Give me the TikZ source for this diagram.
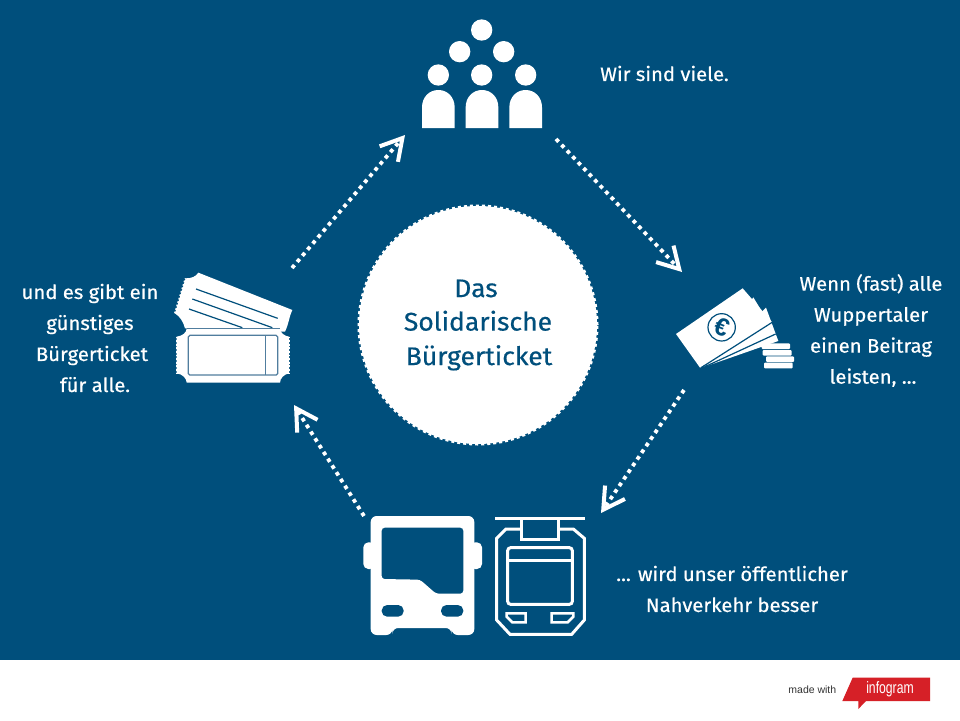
\documentclass[tikz,border=0pt]{standalone}
\usepackage{fontspec}
\setmainfont{Liberation Sans}
\newfontfamily\logofont[FakeStretch=0.74]{Liberation Sans}
\newfontfamily\lblfont[FakeBold=0.5,FakeStretch=1.04]{Fira Sans}
\usetikzlibrary{arrows.meta}
\definecolor{bgblue}{RGB}{0,79,124}
\definecolor{logored}{RGB}{214,32,39}
\definecolor{softline}{RGB}{80,125,158}
\tikzset{
  flow/.style={white,line width=3.8pt,dash pattern=on 3.8pt off 4.2pt,
    -{Straight Barb[length=21pt,width=24pt,line width=4pt]}},
  lbl/.style={text=white,align=center,inner sep=0pt,font=\lblfont\fontsize{19.5}{31}\selectfont},
  icon/.style={fill=white,draw=none},
  iconline/.style={draw=white,line width=3pt,fill=none},
  cut/.style={draw=bgblue,line width=1.2pt},
  zoomed/.style={scale=0.33333}
}
\begin{document}
\begin{tikzpicture}[x=1pt,y=-1pt]
\useasboundingbox (0,0) rectangle (960,720);
\fill[white] (0,0) rectangle (960,720);
\fill[bgblue] (0,0) rectangle (960,660);

% hub
\node[circle,minimum size=238pt,inner sep=0pt,fill=white,draw=white,line width=3pt,
  dash pattern=on 3pt off 3pt,text=bgblue,align=center,
  font=\lblfont\fontsize{25.5}{34.5}\selectfont] (hub) at (478,325)
  {\raisebox{-2pt}{Das}\hspace*{4pt}\\\raisebox{-1pt}{Solidarische}\hspace*{5pt}\\\raisebox{-1pt}{\hspace*{2pt}Bürgerticket}};

% people
\begin{scope}[shift={(400,10)},zoomed]
\foreach \cx/\cy in {245/60,179/125,311/125,115/195,245/195,377/195}
  \fill[white] (\cx,\cy) circle[radius=32];
\foreach \cx in {115,246,377}
  \fill[white] (\cx-49,354) -- (\cx-49,292) .. controls (\cx-49,262) and (\cx-28,240) .. (\cx,240)
     .. controls (\cx+28,240) and (\cx+49,262) .. (\cx+49,292) -- (\cx+49,354) -- cycle;
\end{scope}

% money
\begin{scope}[shift={(660,270)},zoomed]
\fill[white] (318,113) -- (355,213) -- (140,288) -- cycle;
\fill[white] (280,82) -- (345,190) -- (130,290) -- cycle;
\fill[white] (48,192) -- (248,55) -- (335,155) -- (120,293) -- cycle;
\draw[cut] (125,292) -- (338,156);
\draw[cut] (135,290) -- (347,192);
\draw[cut] (185,172) circle[radius=41];
\node[text=bgblue,inner sep=0pt,rotate=-22,font=\bfseries\fontsize{25}{25}\selectfont] at (185,172) {€};
\foreach \ya/\yb/\xa/\xb in {220/237/305/390,240/257/308/395,259/276/318/402,278/295/312/398}
  \fill[white,rounded corners=1pt] (\xa,\ya) rectangle (\xb,\yb);
\end{scope}

% bus
\begin{scope}[shift={(355,505)},zoomed]
\fill[white,rounded corners=5pt] (25,112) rectangle (60,192);
\fill[white,rounded corners=5pt] (345,112) rectangle (381,192);
\fill[white,even odd rule] [rounded corners=6pt]
   (47,33) -- (358,33) -- (358,390) -- (290,390) -- (290,369) -- (112,369) -- (112,390) -- (47,390) -- cycle
   [rounded corners=3pt] (80,68) -- (325,68) -- (325,266) -- (243,266) -- (195,224) -- (80,222) -- cycle;
\fill[bgblue,rounded corners=5.5pt] (80,300) rectangle (146,335);
\fill[bgblue,rounded corners=5.5pt] (258,300) rectangle (325,335);
\end{scope}

% tram
\begin{scope}[shift={(355,505)},zoomed]
\draw[iconline] (420,41) -- (690,41);
\draw[iconline] (500,41) -- (500,102) -- (610,102) -- (610,41);
\draw[iconline] (497,72) -- (453,72) -- (425,100) -- (425,345) -- (465,388) -- (650,388) -- (688,345) -- (688,100) -- (655,72) -- (610,72);
\draw[iconline,rounded corners=3pt] (458,128) rectangle (652,298);
\draw[iconline] (458,165) -- (652,165);
\draw[draw=white,line width=2.6pt] (455,325) -- (512,325) -- (512,352) -- (472,352) -- (455,335) -- cycle;
\draw[draw=white,line width=2.6pt] (590,325) -- (655,325) -- (655,335) -- (638,352) -- (590,352) -- cycle;
\end{scope}

% tickets
\begin{scope}[shift={(165,260)},zoomed]
\fill[white] (100,38) -- (382,150) .. controls (372,170) and (372,190) .. (360,215) -- (60,205)
  .. controls (55,185) and (45,170) .. (30,160) -- (62,55) .. controls (80,55) and (92,50) .. (100,38) -- cycle;
\draw[white,line width=2pt,dash pattern=on 1.8pt off 1.8pt] (30,160) -- (62,55);
\draw[cut] (93,87) -- (338,175);
\draw[cut] (82,117) -- (322,203);
\draw[cut] (72,147) -- (232,203);
\fill[white] (65,205) -- (345,205) .. controls (345,218) and (358,228) .. (372,230) -- (372,340)
  .. controls (358,342) and (345,355) .. (345,368) -- (65,368)
  .. controls (65,355) and (52,342) .. (35,340) -- (35,230) .. controls (52,228) and (65,218) .. (65,205) -- cycle;
\draw[white,line width=2pt,dash pattern=on 1.8pt off 1.8pt] (35,230) -- (35,340);
\draw[white,line width=2pt,dash pattern=on 1.8pt off 1.8pt] (372,230) -- (372,340);
\draw[draw=softline,line width=1pt] (65,205) -- (345,205);
\draw[draw=softline,line width=1.2pt,rounded corners=1.5pt] (70,226) rectangle (338,345);
\draw[draw=softline,line width=1.5pt] (302,226) -- (302,345);
\end{scope}

% connector ends
\coordinate (ticketsout) at (292,268);
\coordinate (peoplein) at (405,135);
\coordinate (peopleout) at (556,139);
\coordinate (moneyin) at (682,272);
\coordinate (moneyout) at (684,390);
\coordinate (transitin) at (601,513);
\coordinate (transitout) at (364,516);
\coordinate (ticketsin) at (294,405);
\draw[flow] (ticketsout) -- (peoplein);
\draw[flow] (peopleout) -- (moneyin);
\draw[flow] (moneyout) -- (transitin);
\draw[flow] (transitout) -- (ticketsin);

% labels
\node[lbl,anchor=west] (t1) at (600,73.5) {Wir sind viele.};
\node[lbl] (t2) at (871,330.5) {Wenn (fast) alle\\Wuppertaler\\einen Beitrag\\\hspace*{4pt}leisten, ...};
\node[lbl] (t3) at (732,589) {... wird unser öffentlicher\\Nahverkehr besser};
\node[lbl] (t4) at (90,338) {und es gibt ein\\günstiges\hspace*{2pt}\\\hspace*{4pt}Bürgerticket\\\hspace*{10pt}für alle.};

% footer
\begin{scope}[shift={(770,665)},zoomed]
\fill[logored] (248,38) -- (480,38) -- (480,108) -- (288,108) -- (265,132) -- (265,108) -- (217,108) -- cycle;
\node[text=white,inner sep=0pt,font=\logofont\fontsize{16.5}{17}\selectfont] (logo) at (360,73) {infogram};
\node[text=black!80,inner sep=0pt,font=\fontsize{10.5}{12}\selectfont] (made) at (127,74) {made with};
\end{scope}
\end{tikzpicture}
\end{document}
